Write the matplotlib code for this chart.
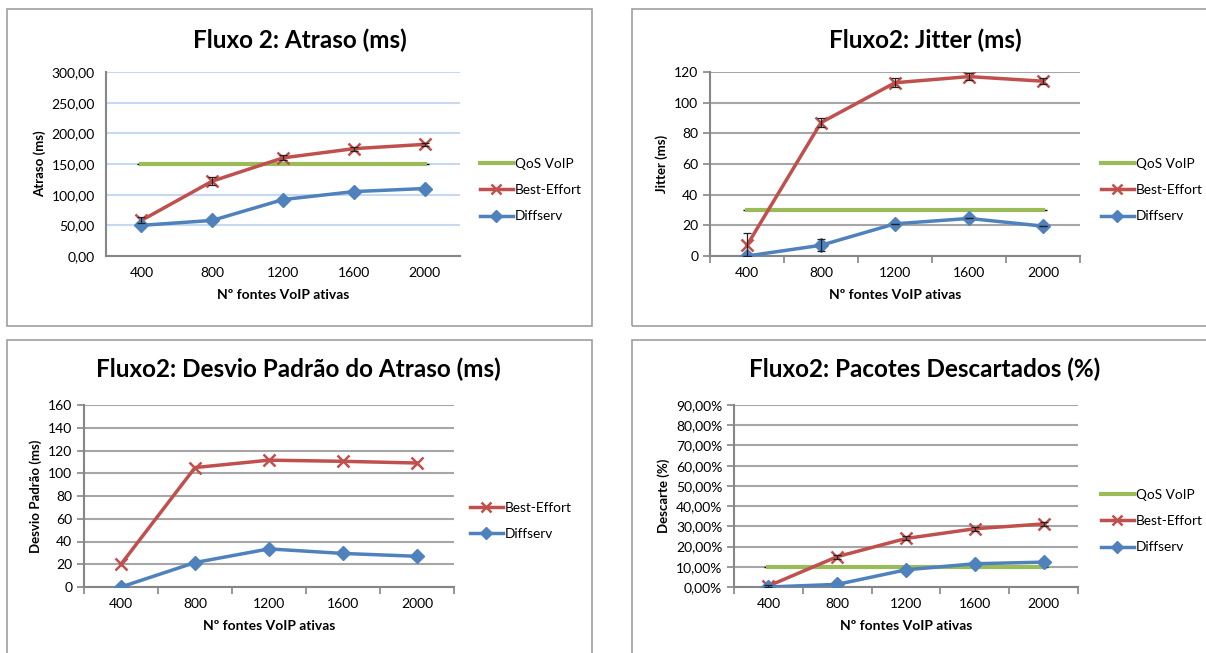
import numpy as np
import matplotlib.pyplot as plt
from matplotlib.patches import Rectangle
from matplotlib.ticker import FixedLocator, FuncFormatter

plt.rcParams['font.family'] = ['Lato', 'DejaVu Sans']

# numero de fontes VoIP ativas
fontes = ['400', '800', '1200', '1600', '2000']

# atraso (ms)
atraso_be = [58, 122, 160, 175, 182]
atraso_be_err = [5, 6, 4, 3, 3]
atraso_ds = [50, 58, 92, 105, 110]
atraso_qos = 150

# jitter (ms)
jitter_be = [7, 87, 113, 117, 114]
jitter_be_err = [8, 3, 3, 2.5, 2]
jitter_ds = [0, 7, 21, 24.5, 19.5]
jitter_ds_err = [0, 4, 0, 0, 0]
jitter_qos = 30

# desvio padrao do atraso (ms)
desvio_be = [20, 105, 111.5, 110.5, 109]
desvio_ds = [0, 21.5, 33.5, 29.5, 27]

# pacotes descartados (%)
desc_be = [0.5, 15, 24, 28.8, 31.2]
desc_be_err = [0.5, 1, 1, 1, 1]
desc_ds = [0, 1.3, 8.5, 11.5, 12.3]
desc_qos = 10

RED = '#c0504d'
BLUE = '#4f81bd'
GREEN = '#9bbb59'

W, H = 1206, 653
fig = plt.figure(figsize=(W / 100, H / 100), dpi=100)


def rect(l, t, r, b):
    return [l / W, 1 - b / H, (r - l) / W, (b - t) / H]


# caixas de cada grafico
for (l, t, r, b) in [(7, 9, 592, 326), (632, 9, 1212, 326),
                     (7, 340, 592, 660), (632, 340, 1212, 660)]:
    fig.patches.append(Rectangle((l / W, 1 - b / H), (r - l) / W, (b - t) / H,
                                 transform=fig.transFigure, fill=False,
                                 edgecolor='#a0a0a0', linewidth=1.2))


def make_ax(box, ylim, yticks, grid_color, fmt, ylabel, title, title_xy, ticks=True):
    ax = fig.add_axes(rect(*box))
    x = np.arange(len(fontes))
    ax.set_xlim(-0.5, len(fontes) - 0.5)
    ax.set_ylim(*ylim)
    ax.set_xticks(x)
    ax.set_xticklabels(fontes)
    ax.set_yticks(yticks)
    ax.yaxis.set_major_formatter(FuncFormatter(fmt))
    ax.grid(axis='y', color=grid_color, linewidth=1.5)
    ax.set_axisbelow(True)
    for s in ['top', 'right']:
        ax.spines[s].set_visible(False)
    for s in ['left', 'bottom']:
        ax.spines[s].set_color('#868686')
        ax.spines[s].set_linewidth(1.5)
    ax.tick_params(axis='x', which='major', length=0, labelsize=10, pad=8)
    if ticks:
        ax.xaxis.set_minor_locator(FixedLocator(np.arange(-0.5, len(fontes), 1.0)))
        ax.tick_params(axis='x', which='minor', length=5, width=1.2, color='#868686', direction='out')
        ax.tick_params(axis='y', length=5, width=1.2, color='#868686', labelsize=10)
    else:
        ax.tick_params(axis='y', length=0, labelsize=10, pad=8)
    ax.set_xlabel('Nº fontes VoIP ativas', fontsize=10, fontweight='bold', labelpad=7)
    ax.set_ylabel(ylabel, fontsize=9.5, fontweight='bold')
    fig.text(title_xy[0] / W, 1 - title_xy[1] / H, title, ha='center', va='center',
             fontsize=17.5, fontweight='bold')
    return ax, x


def draw_series(ax, x, be, ds, qos=None, be_err=None, ds_err=None):
    handles = []
    if qos is not None:
        ax.plot([x[0], x[-1]], [qos, qos], linestyle='none', marker='_',
                color='black', markersize=6, zorder=3)
        h, = ax.plot(x, [qos] * len(x), color=GREEN, linewidth=3, zorder=4,
                     label='QoS VoIP')
        handles.append(h)
    h, = ax.plot(x, be, color=RED, linewidth=2.5, marker='x', markersize=9,
                 markeredgewidth=1.8, zorder=5, label='Best-Effort')
    handles.append(h)
    h2, = ax.plot(x, ds, color=BLUE, linewidth=2.5, marker='D', markersize=7,
                  zorder=5, label='Diffserv')
    handles.append(h2)
    if be_err is not None:
        ax.errorbar(x, be, yerr=be_err, fmt='none', ecolor='#222222',
                    elinewidth=0.9, capsize=3, capthick=0.9, zorder=6)
    if ds_err is not None:
        ax.errorbar(x, ds, yerr=ds_err, fmt='none', ecolor='#222222',
                    elinewidth=0.9, capsize=3, capthick=0.9, zorder=6)
    return handles


def add_legend(ax, handles, lx, ly):
    ax.legend(handles=handles, loc='center left',
              bbox_to_anchor=(lx / W, 1 - ly / H), bbox_transform=fig.transFigure,
              frameon=False, fontsize=9.8, handlelength=2.4, handletextpad=0.15,
              labelspacing=1.05, borderpad=0, borderaxespad=0, markerscale=0.85)


comma2 = lambda v, p: f'{v:.2f}'.replace('.', ',')
plain = lambda v, p: f'{v:.0f}'
pct = lambda v, p: f'{v:.2f}%'.replace('.', ',')

# Fluxo 2: Atraso
ax1, x = make_ax((106, 72, 460, 256), (0, 300), np.arange(0, 301, 50), '#c6d9f1',
                 comma2, 'Atraso (ms)', 'Fluxo 2: Atraso (ms)', (300, 40), ticks=False)
hs = draw_series(ax1, x, atraso_be, atraso_ds, atraso_qos, be_err=atraso_be_err)
add_legend(ax1, hs, 480, 190)

# Fluxo2: Jitter
ax2, x = make_ax((710, 72, 1080, 256), (0, 120), np.arange(0, 121, 20), '#a6a6a6',
                 plain, 'Jitter (ms)', 'Fluxo2: Jitter (ms)', (925, 40))
hs = draw_series(ax2, x, jitter_be, jitter_ds, jitter_qos,
                 be_err=jitter_be_err, ds_err=jitter_ds_err)
add_legend(ax2, hs, 1101, 190)

# Fluxo2: Desvio Padrao do Atraso
ax3, x = make_ax((84, 405, 454, 587), (0, 160), np.arange(0, 161, 20), '#a6a6a6',
                 plain, 'Desvio Padrão (ms)', 'Fluxo2: Desvio Padrão do Atraso (ms)', (298, 369))
hs = draw_series(ax3, x, desvio_be, desvio_ds)
add_legend(ax3, hs, 470, 521)

# Fluxo2: Pacotes Descartados
ax4, x = make_ax((734, 405, 1078, 587), (0, 90), np.arange(0, 91, 10), '#a6a6a6',
                 pct, 'Descarte (%)', 'Fluxo2: Pacotes Descartados (%)', (925, 369))
hs = draw_series(ax4, x, desc_be, desc_ds, desc_qos, be_err=desc_be_err)
add_legend(ax4, hs, 1101, 521)

fig.savefig('out.png', dpi=100)
